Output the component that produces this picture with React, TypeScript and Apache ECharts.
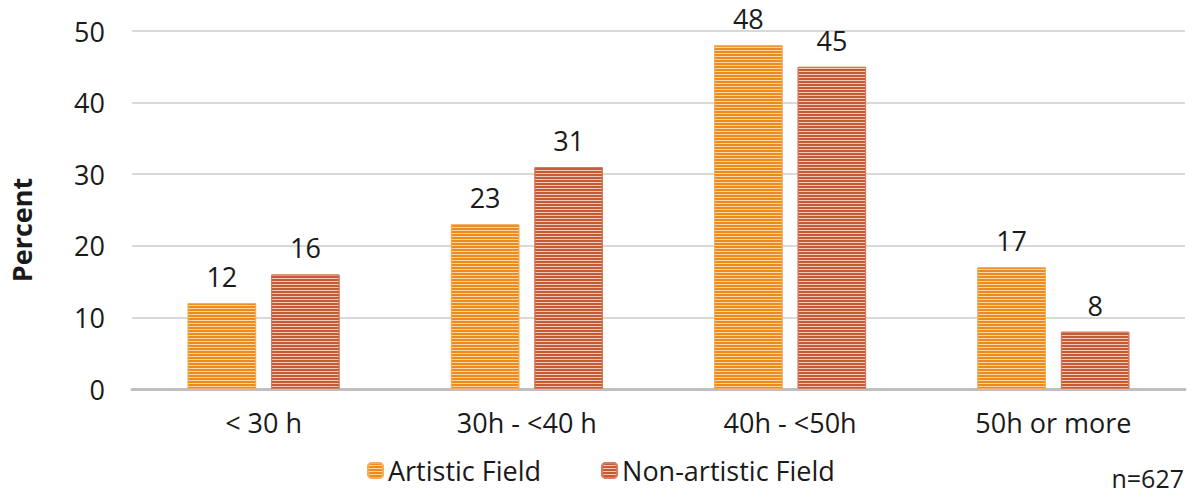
import React, { useEffect, useRef } from "react";
import * as echarts from "echarts";

const categories = ["< 30 h", "30h - <40 h", "40h - <50h", "50h or more"];
const artistic = [12, 23, 48, 17];
const nonArtistic = [16, 31, 45, 8];
const seriesNames = ["Artistic Field", "Non-artistic Field"];
const yTicks = { min: 0, max: 50, interval: 10 };

const FONT = "'Open Sans', 'Noto Sans', sans-serif";
const TEXT = "#1a1a1a";
const FS = 27;

// horizontal stripe fill for the bars
const stripe = (color: string) => ({
  symbol: "rect",
  symbolSize: 1,
  dashArrayX: [1, 0],
  dashArrayY: [2, 1],
  rotation: 0,
  color,
});

export default function App() {
  const ref = useRef<HTMLDivElement>(null);

  useEffect(() => {
    if (!ref.current) return;
    const chart = echarts.init(ref.current, undefined, { renderer: "svg" });
    const labelStyle = {
      show: true,
      position: "top" as const,
      distance: 13,
      color: TEXT,
      fontSize: FS,
      fontFamily: FONT,
    };
    chart.setOption({
      animation: false,
      grid: { left: 132, right: 11, top: 31, bottom: 109 },
      legend: {
        left: 362,
        top: 452,
        itemWidth: 15,
        itemHeight: 15,
        itemGap: 60,
        textStyle: { fontSize: FS, color: TEXT, fontFamily: FONT },
        data: seriesNames,
      },
      xAxis: {
        type: "category",
        data: categories,
        axisTick: { show: false },
        axisLine: { lineStyle: { color: "#bfbfbf", width: 3 } },
        axisLabel: { color: TEXT, fontSize: FS, fontFamily: FONT, margin: 20 },
      },
      yAxis: {
        type: "value",
        min: yTicks.min,
        max: yTicks.max,
        interval: yTicks.interval,
        axisLine: { show: false },
        axisTick: { show: false },
        splitLine: { lineStyle: { color: "#d9d9d9", width: 2 } },
        axisLabel: { color: TEXT, fontSize: FS, fontFamily: FONT, margin: 27 },
      },
      graphic: [
        {
          type: "text",
          x: 21,
          y: 230,
          rotation: Math.PI / 2,
          style: {
            text: "Percent",
            fontSize: FS,
            fontWeight: "bold",
            fontFamily: FONT,
            fill: TEXT,
            align: "center",
            verticalAlign: "middle",
          },
        },
        {
          type: "text",
          right: 12,
          top: 465,
          style: { text: "n=627", fontSize: 25, fontFamily: FONT, fill: TEXT },
        },
      ],
      series: [
        {
          name: seriesNames[0],
          type: "bar",
          data: artistic,
          barWidth: "26%",
          barGap: "22%",
          itemStyle: {
            color: "#fcd6a6",
            borderColor: "#f4ad5c",
            borderWidth: 1,
            decal: stripe("#ec8a1c"),
          },
          label: labelStyle,
        },
        {
          name: seriesNames[1],
          type: "bar",
          data: nonArtistic,
          barWidth: "26%",
          itemStyle: {
            color: "#f2c8b6",
            borderColor: "#d47c5e",
            borderWidth: 1,
            decal: stripe("#c55a36"),
          },
          label: labelStyle,
        },
      ],
    });
    return () => chart.dispose();
  }, []);

  return (
    <div
      ref={ref}
      style={{ position: "absolute", left: 0, top: 0, width: 1196, height: 498 }}
    />
  );
}
